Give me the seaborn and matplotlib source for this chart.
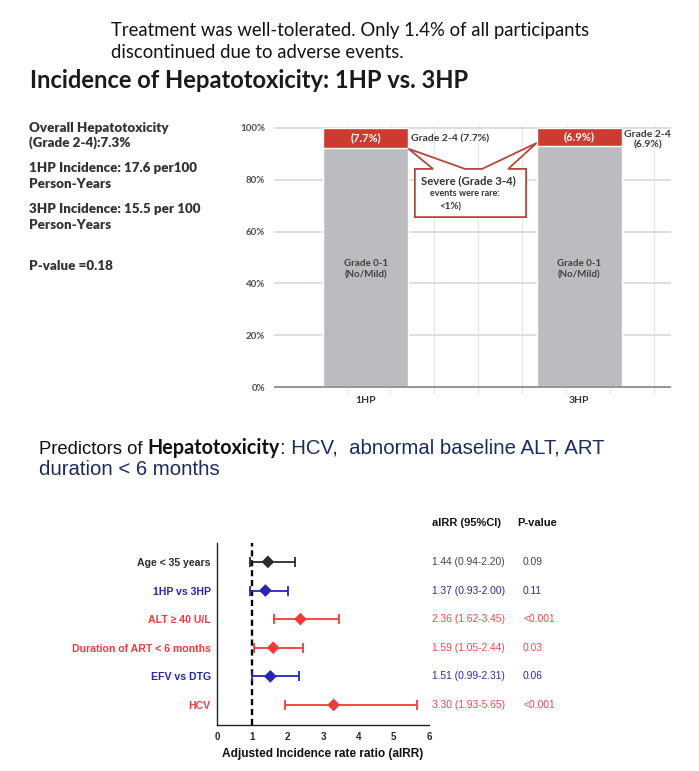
import numpy as np
import pandas as pd
import seaborn as sns
import matplotlib.pyplot as plt
from matplotlib.patches import Polygon
from matplotlib.transforms import blended_transform_factory

W, H = 699, 771

# bar chart data (percent of participants)
regimens = ['1HP', '3HP']
grade_24 = [7.7, 6.9]
grade_01 = [round(100 - g, 1) for g in grade_24]

# forest plot data
predictors = ['Age < 35 years', '1HP vs 3HP', 'ALT \u2265 40 U/L',
              'Duration of ART < 6 months', 'EFV vs DTG', 'HCV']
airr = [1.44, 1.37, 2.36, 1.59, 1.51, 3.30]
ci_low = [0.94, 0.93, 1.62, 1.05, 0.99, 1.93]
ci_high = [2.20, 2.00, 3.45, 2.44, 2.31, 5.65]
p_values = ['0.09', '0.11', '<0.001', '0.03', '0.06', '<0.001']
groups = ['ref', 'blue', 'red', 'red', 'blue', 'red']

RED = '#cc3a30'
GRAY = '#babcc0'
mark_col = {'ref': '#2b2b2b', 'blue': '#2626b4', 'red': '#f23a3a'}
text_col = {'ref': '#444444', 'blue': '#2a2ab0', 'red': '#f04a4a'}

CAL = ['Lato', 'DejaVu Sans']
ARIAL = ['Liberation Sans', 'DejaVu Sans']


def fx(px):
    return px / W


def fy(py):
    return 1 - py / H


sns.set_theme(style='white')
plt.rcParams['font.family'] = ARIAL

fig = plt.figure(figsize=(W / 100, H / 100), dpi=100)

# ---- header texts
fig.text(fx(111), fy(36), 'Treatment was well-tolerated. Only 1.4% of all participants',
         family=CAL, fontsize=13.35, color='#111111', va='baseline')
fig.text(fx(111), fy(58), 'discontinued due to adverse events.',
         family=CAL, fontsize=13.35, color='#111111', va='baseline')
fig.text(fx(30), fy(88), 'Incidence of Hepatotoxicity: 1HP vs. 3HP',
         family=CAL, fontsize=17.1, fontweight='bold', color='#1a1a1a', va='baseline')

left_lines = [('Overall Hepatotoxicity', 132), ('(Grade 2-4):7.3%', 147),
              ('1HP Incidence: 17.6 per100', 172), ('Person-Years', 188),
              ('3HP Incidence: 15.5 per 100', 213), ('Person-Years', 229),
              ('P-value =0.18', 270)]
for s, py in left_lines:
    fig.text(fx(29), fy(py), s, family=CAL, fontsize=9.6, fontweight='heavy',
             color='#333333', va='baseline')

# ---- stacked bar chart
ax = fig.add_axes([fx(274), fy(393.5), 397 / W, 268.1 / H])
bars = pd.DataFrame({'regimen': regimens, 'total': [100] * len(regimens),
                     'low': grade_01, 'high': grade_24})
sns.barplot(data=bars, x='regimen', y='total', color=RED, width=0.4,
            saturation=1, ax=ax, zorder=2)
sns.barplot(data=bars, x='regimen', y='low', color=GRAY, width=0.4,
            saturation=1, ax=ax, zorder=3)
ax.set_xlim(-0.43, 1.43)
ax.set_ylim(-2.5, 101)
ax.set_yticks([0, 20, 40, 60, 80, 100])
ax.set_yticklabels([f'{v}%' for v in [0, 20, 40, 60, 80, 100]],
                   fontsize=7, fontweight='bold', color='#4d4d4d', family=CAL)
ax.set_xticklabels(regimens, fontsize=7.5, fontweight='bold', color='#333333', family=CAL)
ax.set_xticks(np.arange(-0.09, 1.43, 0.2055), minor=True)
ax.tick_params(axis='both', which='both', length=0)
ax.tick_params(axis='y', pad=6.5)
ax.tick_params(axis='x', pad=2)
ax.set_xlabel('')
ax.set_ylabel('')
ax.set_axisbelow(True)
ax.yaxis.grid(True, color='#d6dedc', lw=1.3)
ax.xaxis.grid(True, which='minor', color='#e6e6e6', lw=0.9)
ax.xaxis.grid(False, which='major')
ax.axhline(0, color='#8f8f8f', lw=1.3, zorder=4)
for sp in ax.spines.values():
    sp.set_visible(False)

for i, (lo, hi) in enumerate(zip(grade_01, grade_24)):
    ax.text(i, lo + hi / 2, f'({hi}%)', ha='center', va='center', color='white',
            fontsize=8, fontweight='bold', family=CAL, zorder=5)
    ax.text(i, 45.5, 'Grade 0-1\n(No/Mild)', ha='center', va='center', color='#3f3f3f',
            fontsize=7, fontweight='bold', family=CAL, linespacing=1.25, zorder=5)
ax.text(0.211, 95.8, f'Grade 2-4 ({grade_24[0]}%)', ha='left', va='center',
        color='#3a3a3a', fontsize=7.5, fontweight='bold', family=CAL)
ax.text(1.32, 95.4, f'Grade 2-4\n({grade_24[1]}%)', ha='center', va='center',
        color='#3a3a3a', fontsize=7.5, fontweight='bold', family=CAL, linespacing=1.15)

# callout box with two pointers
callout = [(0.23, 84.2), (0.315, 84.2), (0.2, 92.0), (0.465, 84.2), (0.545, 84.2),
           (0.8, 94.2), (0.667, 84.2), (0.751, 84.2), (0.751, 65.6), (0.23, 65.6)]
ax.add_patch(Polygon(callout, closed=True, facecolor='white', edgecolor='#b8453d',
                     lw=1.3, zorder=6))
ax.text(0.48, 79.8, 'Severe (Grade 3-4)', ha='center', va='center', color='#333333',
        fontsize=8.2, fontweight='bold', family=CAL, zorder=7)
ax.text(0.466, 74.6, 'events were rare:', ha='center', va='center', color='#333333',
        fontsize=6.5, fontweight='bold', family=CAL, zorder=7)
ax.text(0.395, 69.6, '<1%)', ha='center', va='center', color='#333333',
        fontsize=7, fontweight='bold', family=CAL, zorder=7)

# ---- subtitle of the forest plot (multi-style line)
fig.canvas.draw()
rend = fig.canvas.get_renderer()
x0 = fx(39)
pieces = [('Predictors of ', dict(fontsize=13.3, color='#111111', family=ARIAL)),
          ('Hepatotoxicity', dict(fontsize=14.2, color='#111111', family=CAL, fontweight='bold')),
          (': HCV,  abnormal baseline ALT, ART', dict(fontsize=14.7, color='#1c2b5e', family=ARIAL))]
for s, kw in pieces:
    t = fig.text(x0, fy(454), s, va='baseline', **kw)
    x0 += t.get_window_extent(rend).width / W
fig.text(fx(39), fy(475), 'duration < 6 months', va='baseline', fontsize=14.7,
         color='#1c2b5e', family=ARIAL)

# ---- forest plot
ax2 = fig.add_axes([fx(217), fy(725), 212 / W, 182 / H])
forest = pd.DataFrame({'predictor': predictors, 'airr': airr, 'low': ci_low,
                       'high': ci_high, 'group': groups, 'pos': np.arange(len(predictors))})
for _, r in forest.iterrows():
    ax2.errorbar(r['airr'], r['pos'], xerr=[[r['airr'] - r['low']], [r['high'] - r['airr']]],
                 fmt='none', ecolor=mark_col[r['group']], elinewidth=1.3, capsize=3.6,
                 capthick=1.3, zorder=3)
sns.scatterplot(data=forest, x='airr', y='pos', hue='group', palette=mark_col, marker='D',
                s=42, linewidth=0, legend=False, ax=ax2, zorder=4)
ax2.axvline(1, color='black', lw=1.7, ls=(0, (2.6, 1.6)), zorder=2)
ax2.set_xlim(0, 6)
ax2.set_ylim(5.7, -0.66)
ax2.set_xticks(range(7))
ax2.set_xticklabels([str(v) for v in range(7)], fontsize=7, fontweight='bold')
ax2.set_yticks(forest['pos'])
ax2.set_yticklabels(predictors, fontsize=7.6, fontweight='bold')
for lab, g in zip(ax2.get_yticklabels(), groups):
    lab.set_color(mark_col[g])
ax2.tick_params(axis='both', length=3, width=0.9, color='#333333', pad=1.5)
ax2.tick_params(axis='x', pad=2)
ax2.set_ylabel('')
ax2.set_xlabel('Adjusted Incidence rate ratio (aIRR)', fontsize=8.6, fontweight='bold',
               color='#111111', labelpad=4)
sns.despine(ax=ax2)
for sp in ['left', 'bottom']:
    ax2.spines[sp].set_color('#222222')
    ax2.spines[sp].set_linewidth(1.0)

# table to the right
tr = blended_transform_factory(fig.transFigure, ax2.transData)
for i, (a, lo, hi, p, g) in enumerate(zip(airr, ci_low, ci_high, p_values, groups)):
    ax2.text(fx(432), i, f'{a:.2f} ({lo:.2f}-{hi:.2f})', transform=tr, ha='left',
             va='center', fontsize=7.4, color=text_col[g], clip_on=False)
    ax2.text(fx(523), i, p, transform=tr, ha='left', va='center', fontsize=7.4,
             color=text_col[g], clip_on=False)
fig.text(fx(432), fy(523), 'aIRR (95%CI)', fontsize=8, fontweight='bold', va='center',
         color='#111111')
fig.text(fx(517), fy(523), 'P-value', fontsize=8, fontweight='bold', va='center',
         color='#111111')

fig.savefig('out.png', dpi=100)
